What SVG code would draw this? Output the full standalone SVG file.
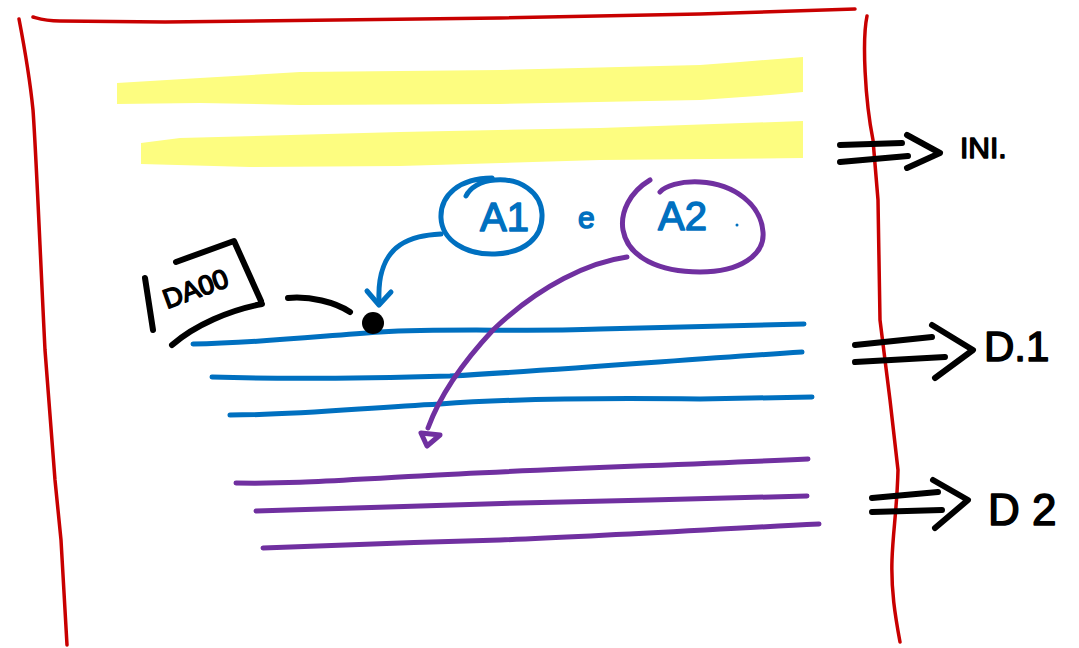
<svg xmlns="http://www.w3.org/2000/svg" width="1079" height="648" viewBox="0 0 1079 648">
<defs>
<style>
.red{fill:none;stroke:#c80000;stroke-width:3.5;stroke-linecap:round;stroke-linejoin:round}
.blue{fill:none;stroke:#0070c0;stroke-width:5;stroke-linecap:round;stroke-linejoin:round}
.purple{fill:none;stroke:#7030a0;stroke-width:5;stroke-linecap:round;stroke-linejoin:round}
.ink{fill:none;stroke:#000;stroke-width:6;stroke-linecap:round;stroke-linejoin:round}
.hl{fill:#fdfd80;stroke:none}
.t{font-family:"Liberation Sans",Arial,sans-serif;stroke-linejoin:round}
.tb{fill:#0070c0;stroke:#0070c0;stroke-width:1.5}
.tk{fill:#000;stroke:#000;stroke-width:1.5}
</style>
</defs>
<rect width="1079" height="648" fill="#fff"/>

<g id="page-border">
<path class="red" d="M33,17 C40,19 45,21 60,21 L165,22 L500,18 L700,14 L855,9"/>
<path class="red" d="M19,19 C24,45 30,80 33,110 C36,150 40,250 45,350 L55,480 L61,540 L67,645"/>
<path class="red" d="M867,16 C862,40 865,100 873,140 L878,200 L880,320 L890,400 L898,470 C897,510 893,530 892,560 C891,590 895,615 900,642"/>
</g>

<g id="intro-highlights">
<path class="hl" d="M117,83 L200,78 L300,72 L500,70 L700,65 L740,62 L803,57 L803,92 L770,95 L700,100 L500,104 L300,105 L200,103 L117,104 Z"/>
<path class="hl" d="M141,143 L180,138 L400,132 L600,128 L803,121 L803,158 L600,160 L400,166 L250,167 L141,164 Z"/>
</g>

<g id="d1-lines">
<path class="blue" d="M193,344 C260,343 320,336 380,332 C450,328 520,332 600,329 L804,324"/>
<path class="blue" d="M212,377 C300,380 380,378 450,376 C560,370 680,360 802,352"/>
<path class="blue" d="M230,415 C300,415 360,408 440,404 C520,398 620,398 700,399 L812,397"/>
</g>

<g id="d2-lines">
<path class="purple" d="M236,483 C300,484 340,480 420,476 C520,470 650,466 808,459"/>
<path class="purple" d="M256,511 C330,509 420,506 520,503 L650,500 L807,496"/>
<path class="purple" d="M263,548 C350,545 420,542 500,540 C600,536 700,530 819,524"/>
</g>

<g id="anchor-dao">
<path class="ink" d="M145,278 L153,330"/>
<path class="ink" d="M176,262 L234,241 L261,301"/>
<path class="ink" d="M262,304 C230,310 195,325 172,345"/>
<text class="t tk" x="0" y="0" font-size="27" transform="translate(167,309) rotate(-20)">DA00</text>
<path class="ink" d="M288,298 C310,296 335,302 350,312"/>
<circle cx="373" cy="323" r="11" fill="#000"/>
</g>

<g id="node-a1">
<path class="blue" d="M492,178 C460,178 440,195 441,218 C442,240 465,255 495,254 C525,253 543,237 542,214 C541,192 520,178 495,180 C480,181 470,188 466,196"/>
<text class="t tb" x="480" y="231" font-size="40">A1</text>
</g>

<text class="t tb" x="578" y="228" font-size="30">e</text>

<g id="node-a2">
<path class="purple" d="M650,180 C630,192 620,212 623,230 C628,258 660,272 700,272 C740,272 765,255 763,232 C761,205 735,184 700,182 C680,181 665,186 660,192"/>
<text class="t tb" x="658" y="230" font-size="40">A2</text>
<circle cx="737" cy="225" r="1.5" fill="#0070c0"/>
</g>

<g id="connectors">
<path class="blue" d="M441,234 C425,235 412,237 400,245 C385,255 378,275 379,300"/>
<path class="blue" d="M367,291 L379,305 L391,292"/>
<path class="purple" d="M627,257 C590,262 540,285 493,330 C465,360 440,395 428,428"/>
<path class="purple" d="M421,433 L440,435 L427,446 Z"/>
</g>

<g id="label-ini">
<path class="ink" d="M840,145 L902,143 M840,162 L908,156 M907,135 L940,153 L907,168"/>
<text class="t tk" x="960" y="158" font-size="30">INI.</text>
</g>

<g id="label-d1">
<path class="ink" d="M855,345 L932,337 M855,362 L945,357 M932,325 L973,350 L935,378"/>
<text class="t tk" x="984" y="361" font-size="42">D.1</text>
</g>

<g id="label-d2">
<path class="ink" d="M872,498 L938,492 M872,512 L942,510 M933,480 L968,500 L935,528"/>
<text class="t tk" x="988" y="525" font-size="44">D 2</text>
</g>
</svg>
